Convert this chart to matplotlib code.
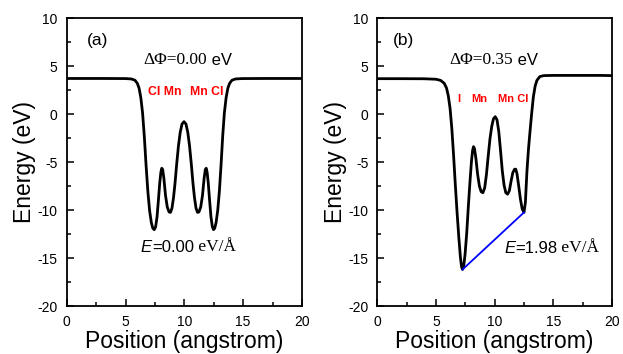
import matplotlib
matplotlib.use("Agg")
import matplotlib.pyplot as plt
from matplotlib.ticker import MultipleLocator

# ---- data ----
xa = [0, 3, 5, 5.5, 5.8, 6.0, 6.15, 6.3, 6.45, 6.6, 6.75, 6.9, 7.05, 7.2, 7.32, 7.44,
      7.56, 7.68, 7.8, 7.9, 8.0, 8.08, 8.16, 8.26, 8.4, 8.55, 8.7, 8.82, 8.95, 9.08,
      9.2, 9.35, 9.5, 9.65, 9.8, 9.97, 10.14, 10.29, 10.44, 10.59, 10.74, 10.86, 10.99,
      11.12, 11.24, 11.39, 11.54, 11.68, 11.78, 11.86, 11.94, 12.04, 12.14, 12.26, 12.38,
      12.48, 12.58, 12.7, 12.84, 12.98, 13.12, 13.26, 13.4, 13.55, 13.7, 13.85, 14.05,
      14.35, 14.9, 17, 20]
ya = [3.7, 3.7, 3.69, 3.65, 3.52, 3.2, 2.7, 1.7, 0.1, -2.4, -5.4, -8.1, -10.1, -11.35, -11.9, -12.05,
      -11.75, -10.7, -8.9, -7.3, -6.1, -5.65, -5.8, -6.7, -8.5, -9.7, -10.2, -10.25, -9.8, -8.7,
      -7.3, -5.2, -3.3, -1.9, -1.05, -0.8, -1.05, -1.9, -3.3, -5.2, -7.3, -8.7, -9.8,
      -10.25, -10.2, -9.7, -8.5, -6.7, -5.8, -5.65, -6.1, -7.3, -8.9, -10.7, -11.75,
      -12.05, -11.9, -11.3, -10.0, -8.0, -5.3, -2.3, 0.1, 1.7, 2.7, 3.2, 3.52,
      3.65, 3.69, 3.7, 3.7]

xb = [0, 2, 4, 5, 5.4, 5.7, 5.9, 6.05, 6.2, 6.35, 6.5, 6.65, 6.8, 6.95, 7.08, 7.18, 7.26,
      7.36, 7.48, 7.62, 7.76, 7.9, 8.02, 8.12, 8.2, 8.28, 8.4, 8.55, 8.7, 8.85, 9.0,
      9.15, 9.3, 9.45, 9.6, 9.75, 9.9, 10.05, 10.2, 10.35, 10.5, 10.65, 10.8, 10.95,
      11.1, 11.25, 11.4, 11.55, 11.7, 11.8, 11.9, 12.05, 12.2, 12.35, 12.5, 12.62,
      12.75, 12.88, 13.0, 13.15, 13.3, 13.45, 13.6, 13.85, 14.2, 15, 17, 19, 20]
yb = [3.68, 3.68, 3.67, 3.62, 3.5, 3.2, 2.7, 1.9, 0.6, -1.5, -4.3, -7.4, -10.3, -12.9, -14.9, -15.9, -16.2,
      -15.9, -14.6, -12.4, -9.6, -7.0, -5.0, -3.8, -3.4, -3.6, -4.6, -6.3, -7.5, -8.1, -8.2,
      -7.7, -6.3, -4.4, -2.6, -1.3, -0.5, -0.28, -0.6, -1.8, -3.8, -5.9, -7.4, -8.2,
      -8.35, -8.0, -7.0, -6.1, -5.75, -5.75, -6.2, -7.5, -8.9, -9.9, -10.25, -9.2,
      -6.0, -3.7, -2.0, 0.0, 1.8, 2.9, 3.5, 3.9, 4.0, 4.02, 4.02, 4.02, 4.0]

field_x = [7.26, 12.5]
field_y = [-16.2, -10.25]

panel_tags = ["(a)", "(b)"]
dphi_vals = ["0.00", "0.35"]
field_vals = ["0.00", "1.98"]
atoms_a = ["Cl Mn", "Mn Cl"]
atoms_b = ["I", "Mn", "Mn Cl"]

xticks = [0, 5, 10, 15, 20]
yticks = [-20, -15, -10, -5, 0, 5, 10]

SANS = "Liberation Sans"
SERIF = "Liberation Serif"

fig = plt.figure(figsize=(6.23, 3.54), dpi=100)
W, H = 623, 354
axes = []
for left_px, right_px in [(66.7, 302), (377.3, 612)]:
    ax = fig.add_axes([left_px / W, 1 - 306 / H, (right_px - left_px) / W, (306 - 18) / H])
    axes.append(ax)

for ax in axes:
    ax.set_xlim(0, 20)
    ax.set_ylim(-20, 10)
    ax.set_xticks(xticks)
    ax.set_yticks(yticks)
    ax.set_xticklabels([str(v) for v in xticks], fontfamily=SANS, fontsize=10)
    ax.set_yticklabels([str(v) for v in yticks], fontfamily=SANS, fontsize=10)
    ax.xaxis.set_minor_locator(MultipleLocator(2.5))
    ax.yaxis.set_minor_locator(MultipleLocator(2.5))
    ax.tick_params(which="both", direction="in", top=False, right=False, width=1.1)
    ax.tick_params(which="major", length=5, pad=6.5)
    ax.tick_params(which="minor", length=3)
    for s in ax.spines.values():
        s.set_linewidth(1.3)
    ax.set_xlabel("Position (angstrom)", fontfamily=SANS, fontsize=16.5)
    ax.set_ylabel("Energy (eV)", fontfamily=SANS, fontsize=16.5)
    ax.xaxis.set_label_coords(0.5, -0.085)
    ax.yaxis.set_label_coords(-0.13, 0.5)


def two_part(ax, x, y, parts):
    """parts: list of (text, fontdict) drawn consecutively."""
    t = ax.text(x, y, parts[0][0], va="center", ha="left", **parts[0][1])
    prev = t
    for txt, fd in parts[1:]:
        prev = ax.annotate(txt, xy=(1, 0), xycoords=prev, va="bottom", ha="left", **fd)
    return t


serif_fd = dict(fontfamily=SERIF, fontsize=12.5)
sans_fd = dict(fontfamily=SANS, fontsize=12)
ital_fd = dict(fontfamily=SANS, fontsize=12, fontstyle="italic")
red_a = dict(fontfamily=SANS, fontsize=8.8, fontweight="bold", color="#ff0000")
red_b = dict(fontfamily=SANS, fontsize=8.0, fontweight="bold", color="#ff0000")

# panel (a)
ax = axes[0]
ax.plot(xa, ya, color="black", lw=2.0)
ax.text(1.75, 7.7, panel_tags[0], fontfamily=SANS, fontsize=12.5, va="center", ha="left")
two_part(ax, 6.5, 5.6, [("ΔΦ=" + dphi_vals[0], serif_fd), (" eV", sans_fd)])
two_part(ax, 6.3, -13.9, [("E", ital_fd), ("=" + field_vals[0], sans_fd), (" eV/Å", serif_fd)])
ax.text(6.9, 2.3, atoms_a[0], va="center", ha="left", **red_a)
ax.text(10.45, 2.3, atoms_a[1], va="center", ha="left", **red_a)

# panel (b)
ax = axes[1]
ax.plot(xb, yb, color="black", lw=2.0)
ax.plot(field_x, field_y, color="#0000ff", lw=1.3)
ax.text(1.33, 7.7, panel_tags[1], fontfamily=SANS, fontsize=12.5, va="center", ha="left")
two_part(ax, 6.1, 5.6, [("ΔΦ=" + dphi_vals[1], serif_fd), (" eV", sans_fd)])
two_part(ax, 10.8, -14.0, [("E", ital_fd), ("=" + field_vals[1], sans_fd), (" eV/Å", serif_fd)])
ax.text(6.85, 1.6, atoms_b[0], va="center", ha="left", **red_b)
ax.text(7.98, 1.6, atoms_b[1], va="center", ha="left", **red_b)
ax.text(10.3, 1.6, atoms_b[2], va="center", ha="left", **red_b)

fig.savefig("out.png", dpi=100)
